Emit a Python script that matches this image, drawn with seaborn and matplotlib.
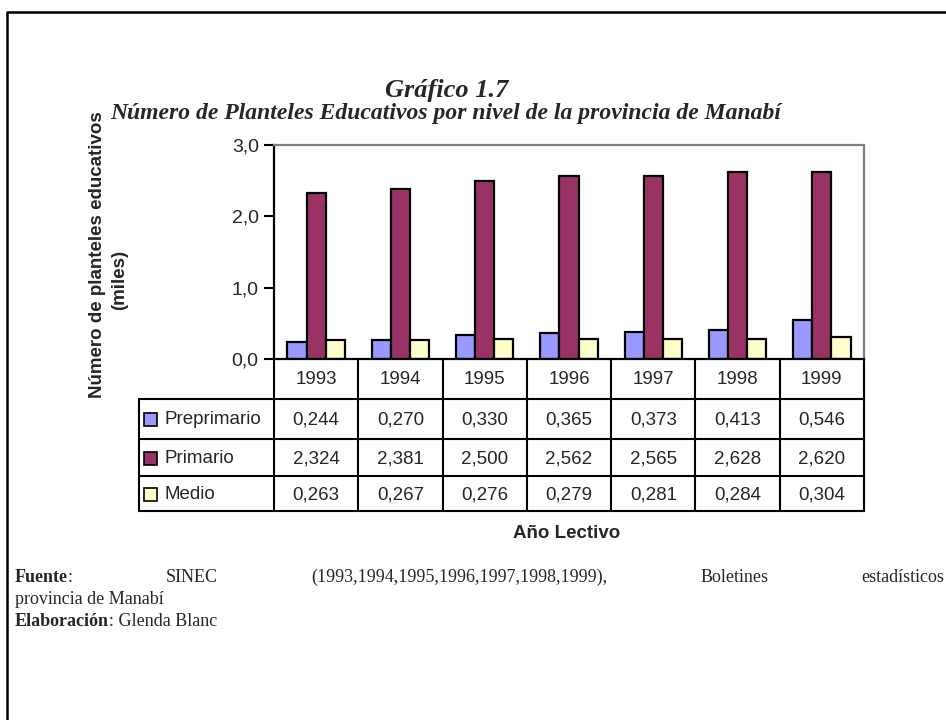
import matplotlib
matplotlib.use("Agg")
import matplotlib.pyplot as plt
import seaborn as sns
import pandas as pd
from matplotlib.lines import Line2D
from matplotlib.patches import Rectangle

# datos
years = ["1993", "1994", "1995", "1996", "1997", "1998", "1999"]
niveles = ["Preprimario", "Primario", "Medio"]
preprimario = [0.244, 0.270, 0.330, 0.365, 0.373, 0.413, 0.546]
primario = [2.324, 2.381, 2.500, 2.562, 2.565, 2.628, 2.620]
medio = [0.263, 0.267, 0.276, 0.279, 0.281, 0.284, 0.304]
colores = ["#9999FF", "#993366", "#FFFFCC"]
yticks = [0, 1, 2, 3]

series = [preprimario, primario, medio]
df = pd.DataFrame({
    "Año": years * 3,
    "Nivel": [n for n in niveles for _ in years],
    "Valor": preprimario + primario + medio,
})

sns.set_style("white")
plt.rcParams["font.family"] = ["Liberation Sans", "DejaVu Sans"]

W, H = 946, 720
fig = plt.figure(figsize=(W / 100, H / 100), dpi=100)

# capa en pixeles para marco, tabla y textos
lay = fig.add_axes([0, 0, 1, 1])
lay.set_xlim(0, W)
lay.set_ylim(H, 0)
lay.axis("off")

L, R, T, B = 274, 864, 145, 359
ax = fig.add_axes([L / W, 1 - B / H, (R - L) / W, (B - T) / H])
sns.barplot(data=df, x="Año", y="Valor", hue="Nivel", palette=colores,
            saturation=1, width=0.68, edgecolor="black", linewidth=1.6,
            legend=False, ax=ax)
ax.set_ylim(0, 3)
ax.set_xlim(-0.5, len(years) - 0.5)
ax.set_yticks(yticks)
ax.set_yticklabels([f"{v:.1f}".replace(".", ",") for v in yticks], fontsize=14)
ax.set_xticks([])
ax.set_xlabel("")
ax.set_ylabel("")
ax.tick_params(axis="y", direction="out", length=7, width=1.5, color="black",
               left=True, pad=4)
for s in ["left", "bottom"]:
    ax.spines[s].set_color("black")
    ax.spines[s].set_linewidth(1.6)
for s in ["top", "right"]:
    ax.spines[s].set_color("#808080")
    ax.spines[s].set_linewidth(1.6)

# marco exterior
lay.add_line(Line2D([7, 7, W + 5], [H + 5, 12, 12], color="black", lw=1.8))

# tabla de datos
lw = 1.5
row_y = [B, 399, 439, 476, 511]
colw = (R - L) / len(years)
col_x = [L + i * colw for i in range(len(years) + 1)]
TL = 139
for y in row_y[1:]:
    lay.add_line(Line2D([TL, R], [y, y], color="black", lw=lw))
for x in col_x:
    lay.add_line(Line2D([x, x], [B, row_y[-1]], color="black", lw=lw))
lay.add_line(Line2D([TL, TL], [row_y[1], row_y[-1]], color="black", lw=lw))

for i, yr in enumerate(years):
    lay.text(col_x[i] + colw / 2, (row_y[0] + row_y[1]) / 2 + 1, yr,
             ha="center", va="center", fontsize=13.5)
for r, (nivel, vals, c) in enumerate(zip(niveles, series, colores)):
    yc = (row_y[r + 1] + row_y[r + 2]) / 2 + 1
    lay.add_patch(Rectangle((143.5, yc - 7), 13, 13, facecolor=c,
                            edgecolor="black", lw=1.2))
    lay.text(164, yc, nivel, ha="left", va="center", fontsize=13.5)
    for i, v in enumerate(vals):
        lay.text(col_x[i] + colw / 2, yc, f"{v:.3f}".replace(".", ","),
                 ha="center", va="center", fontsize=13.5)

lay.text(567, 533, "Año Lectivo", ha="center", va="center", fontsize=13.5,
         fontweight="bold")

# eje y
lay.text(97, 255, "Número de planteles educativos", rotation=90,
         ha="center", va="center", fontsize=13.5, fontweight="bold")
lay.text(120, 280, "(miles)", rotation=90, ha="center", va="center",
         fontsize=13.5, fontweight="bold")

# titulos
serif = ["Liberation Serif", "DejaVu Serif"]
lay.text(447, 90, "Gráfico 1.7", ha="center", va="center", fontsize=19,
         fontweight="bold", style="italic", family=serif)
lay.text(446, 113, "Número de Planteles Educativos por nivel de la provincia de Manabí",
         ha="center", va="center", fontsize=17, fontweight="bold",
         style="italic", family=serif)

# pie: linea justificada
fs = 13
fig.canvas.draw()
rend = fig.canvas.get_renderer()
inv = lay.transData.inverted()


def width(t):
    bb = t.get_window_extent(renderer=rend)
    p0 = inv.transform((bb.x0, bb.y0))
    p1 = inv.transform((bb.x1, bb.y0))
    return p1[0] - p0[0]


y1 = 582
x0, x_end = 15, 944
t_f = lay.text(x0, y1, "Fuente", fontsize=fs, fontweight="bold", family=serif,
               va="baseline")
t_c = lay.text(x0 + width(t_f), y1, ":", fontsize=fs, family=serif, va="baseline")
first_w = width(t_f) + width(t_c)
words = ["SINEC", "(1993,1994,1995,1996,1997,1998,1999),", "Boletines", "estadísticos"]
ts = [lay.text(0, y1, w_, fontsize=fs, family=serif, va="baseline") for w_ in words]
ws = [width(t) for t in ts]
gap = (x_end - x0 - first_w - sum(ws)) / len(words)
x = x0 + first_w + gap
for t, w_ in zip(ts, ws):
    t.set_x(x)
    x += w_ + gap

lay.text(x0, 604, "provincia de Manabí", fontsize=fs, family=serif, va="baseline")
t_e = lay.text(x0, 626, "Elaboración", fontsize=fs, fontweight="bold",
               family=serif, va="baseline")
lay.text(x0 + width(t_e), 626, ": Glenda Blanc", fontsize=fs, family=serif,
         va="baseline")

fig.savefig("out.png", dpi=100)
